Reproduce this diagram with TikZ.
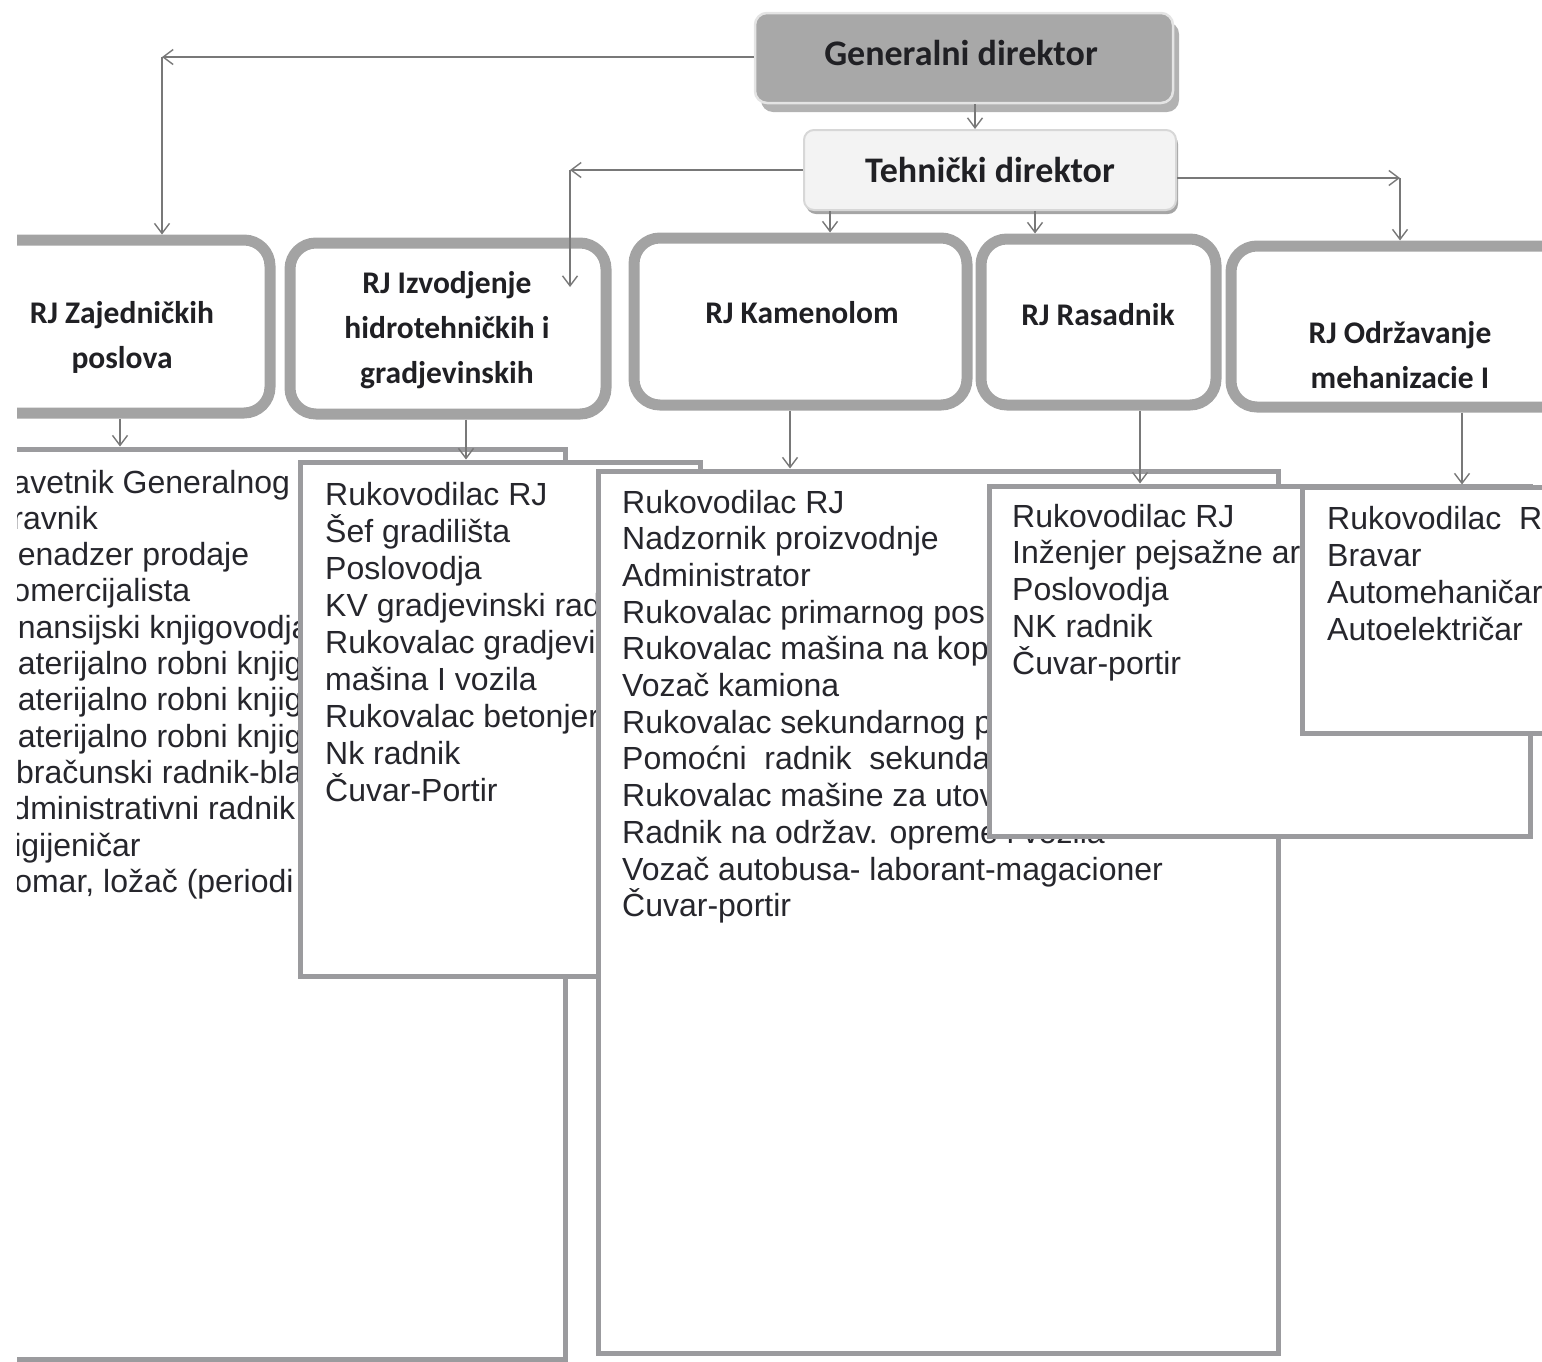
\documentclass[tikz,border=0pt]{standalone}
\usepackage{fontspec}
\setmainfont{Liberation Sans}
\newfontfamily\carl{Carlito}
\usetikzlibrary{arrows.meta,shadows}
\definecolor{band}{RGB}{163,163,163}
\definecolor{lbord}{RGB}{155,155,158}
\definecolor{conn}{RGB}{120,120,120}
\definecolor{txt}{RGB}{38,38,44}
\definecolor{hdr}{RGB}{32,32,36}
\definecolor{gdfill}{RGB}{168,168,168}
\definecolor{tdfill}{RGB}{243,243,243}
\tikzset{
  lst/.style={anchor=base west, inner sep=0pt, text=txt, font=\fontsize{32}{37}\selectfont},
  rjbox/.style={draw=band, line width=11pt, rounded corners=26pt, fill=white},
  rjtext/.style={inner sep=0pt, align=center, text=hdr, font=\carl\bfseries\fontsize{31.5}{45}\selectfont},
  lbox/.style={draw=lbord, line width=5pt, fill=white},
  arr/.style={draw=conn, line width=1.4pt, -{Straight Barb[length=10pt,width=15pt]}},
  gdbox/.style={fill=gdfill, draw={rgb,255:red,228;green,228;blue,228}, line width=2.5pt, rounded corners=12pt,
    drop shadow={shadow xshift=6pt, shadow yshift=-9pt, fill={rgb,255:red,178;green,178;blue,178}, opacity=1}},
  tdbox/.style={fill=tdfill, draw={rgb,255:red,215;green,215;blue,215}, line width=2pt, rounded corners=10pt,
    drop shadow={shadow xshift=2pt, shadow yshift=-4pt, fill={rgb,255:red,165;green,165;blue,165}, opacity=1},
    text=hdr, font=\carl\bfseries\fontsize{36}{42}\selectfont},
  bigtext/.style={inner sep=0pt, text=hdr, font=\carl\bfseries\fontsize{36}{42}\selectfont},
}
\begin{document}
\begin{tikzpicture}[x=1pt,y=-1pt]
\useasboundingbox (0,0) rectangle (1542,1361);
\begin{scope}
\clip (17,0) rectangle (1542,1361);

% level 2 units
\node[rjbox, minimum width=310pt, minimum height=173pt] (zaj) at (115,326.5) {};
\node[rjbox, minimum width=316pt, minimum height=171pt] (izv) at (448,328.5) {};
\node[rjbox, minimum width=333pt, minimum height=167pt] (kam) at (800.5,321.5) {};
\node[rjbox, minimum width=235pt, minimum height=166pt] (ras) at (1098.5,322) {};
\node[rjbox, minimum width=369pt, minimum height=161pt] (odr) at (1415.5,326.5) {};
\node[rjtext] (zajt) at (122,337) {RJ Zajedničkih\\poslova};
\node[rjtext] (izvt) at (447,330) {RJ Izvodjenje\\hidrotehničkih i\\gradjevinskih};
\node[rjtext] (kamt) at (802,313) {RJ Kamenolom};
\node[rjtext] (rast) at (1098,315) {RJ Rasadnik};
\node[rjtext] (odrt) at (1400,355) {RJ Održavanje\\mehanizacie I};

% level 3 lists
\node[lbox, minimum width=565pt, minimum height=910pt] (zajl) at (282.5,904) {};
\foreach \xx/\ta [count=\i] in {12.3/avetnik Generalnog, 12.3/ravnik, 17.7/enadzer prodaje,
  12.3/omercijalista, 17.7/nansijski knjigovodja, 17.7/aterijalno robni knjig,
  17.7/aterijalno robni knjig, 17.7/aterijalno robni knjig, 15.9/bračunski radnik-bla,
  12.3/dministrativni radnik, 14.1/igijeničar, 14.1/{omar, ložač (periodi}}
  \node[lst] (zt\i) at (\xx,{493+36.3*(\i-1)}) {\ta};

\node[lbox, minimum width=400pt, minimum height=514pt] (izvl) at (500,719) {};
\foreach \ta [count=\i] in {Rukovodilac RJ, Šef gradilišta, Poslovodja, KV gradjevinski rad,
  Rukovalac gradjevi, mašina I vozila, Rukovalac betonjer, Nk radnik, Čuvar-Portir}
  \node[lst] (it\i) at (325,{505+37*(\i-1)}) {\ta};

\node[lbox, minimum width=680pt, minimum height=882pt] (kaml) at (938,912) {};
\foreach \ta [count=\i] in {Rukovodilac RJ, Nadzornik proizvodnje, Administrator,
  Rukovalac primarnog pos, Rukovalac mašina na kop, Vozač kamiona, Rukovalac sekundarnog p,
  Pomoćni\ \ radnik\ \ sekunda, Rukovalac mašine za utov, Radnik na održav. opreme i vozila,
  Vozač autobusa- laborant-magacioner, Čuvar-portir}
  \node[lst] (kt\i) at (622,{513+36.7*(\i-1)}) {\ta};

\node[lbox, minimum width=541pt, minimum height=350pt] (rasl) at (1259.5,661) {};
\foreach \ta [count=\i] in {Rukovodilac RJ, Inženjer pejsažne ar, Poslovodja, NK radnik, Čuvar-portir}
  \node[lst] (rt\i) at (1012,{527+36.75*(\i-1)}) {\ta};

\node[lbox, minimum width=298pt, minimum height=246pt] (odrl) at (1451,610) {};
\foreach \ta [count=\i] in {Rukovodilac\ \ R, Bravar, Automehaničar, Autoelektričar}
  \node[lst] (ot\i) at (1327,{529.5+37*(\i-1)}) {\ta};

% directors
\node[gdbox, minimum width=418pt, minimum height=90pt] (gd) at (964,58) {};
\node[bigtext] (gdt) at (961,53) {Generalni direktor};
\node[tdbox, minimum width=372pt, minimum height=80pt] (td) at (990,170) {Tehnički direktor};

% connector coordinates
\coordinate (gl) at (162,57);
\coordinate (tl) at (570,170);
\coordinate (tle) at (570,287);
\coordinate (tr) at (1400,178);
\coordinate (kx) at (830,0);
\coordinate (rx) at (1035,0);
\coordinate (zx) at (120,0);
\coordinate (ix) at (466,0);
\coordinate (mx) at (790,0);
\coordinate (sx) at (1140,0);
\coordinate (ox) at (1462,0);

% connectors
\draw[arr] ([xshift=11pt]gd.south) -- ([xshift=11pt]gd.south |- td.north);
\draw[arr] (gd.west |- gl) -- (gl);
\draw[arr] (gl) -- (gl |- zaj.north);
\draw[arr] (td.west |- tl) -- (tl);
\draw[arr] (tl) -- (tle);
\draw[arr] (td.east |- tr) -- (tr);
\draw[arr] (tr) -- (tr |- odr.north);
\draw[arr] (td.south -| kx) -- (kam.north -| kx);
\draw[arr] (td.south -| rx) -- (ras.north -| rx);
\draw[arr] (zaj.south -| zx) -- (zajl.north -| zx);
\draw[arr] (izv.south -| ix) -- (izvl.north -| ix);
\draw[arr] (kam.south -| mx) -- (kaml.north -| mx);
\draw[arr] (ras.south -| sx) -- (rasl.north -| sx);
\draw[arr] (odr.south -| ox) -- (odrl.north -| ox);
\end{scope}
\end{tikzpicture}
\end{document}
